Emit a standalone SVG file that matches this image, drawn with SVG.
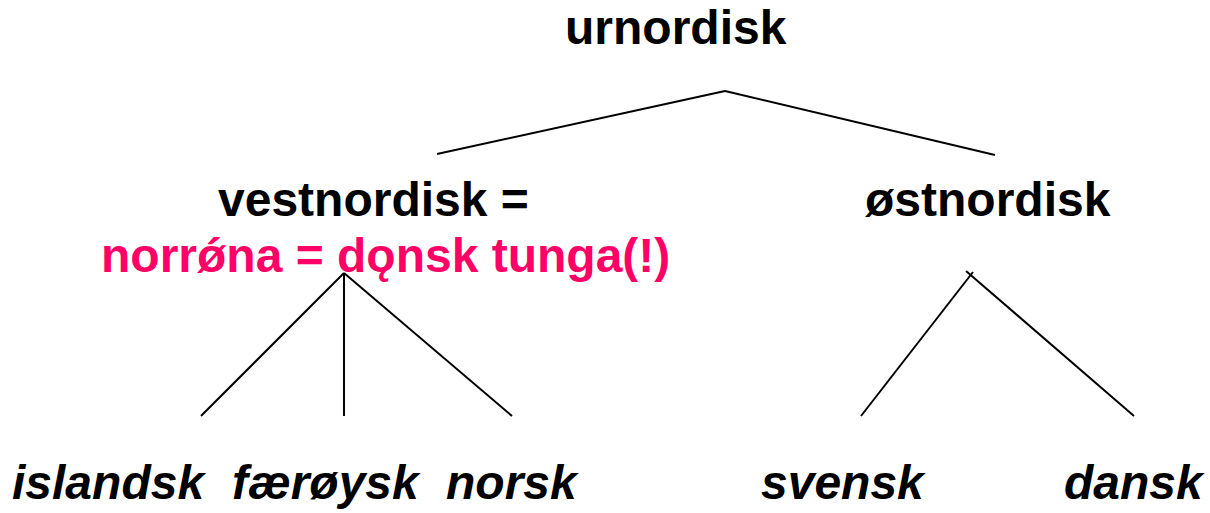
<svg xmlns="http://www.w3.org/2000/svg" width="1210" height="513" viewBox="0 0 1210 513">
<style>
text{font-family:"Liberation Sans",Arial,sans-serif;font-size:48px;font-weight:bold;fill:#000}
.pink{fill:#FF0066}
.it{font-style:italic}
line{stroke:#000;stroke-width:2;stroke-linecap:butt}
</style>
<rect width="1210" height="513" fill="#fff"/>
<g id="connectors">
<line x1="725" y1="91" x2="437" y2="154"/>
<line x1="725" y1="91" x2="995" y2="155"/>
<line x1="344" y1="273" x2="201" y2="416"/>
<line x1="344" y1="273" x2="344" y2="416"/>
<line x1="344" y1="273" x2="512" y2="416"/>
<line x1="973" y1="272" x2="861" y2="416"/>
<line x1="966" y1="271" x2="1134" y2="416"/>
</g>
<g id="urnordisk"><text x="565" y="44">urnordisk</text></g>
<g id="vestnordisk"><text x="218" y="216">vestnordisk =</text>
<text class="pink" x="101" y="272">norrǿna = dǫnsk tunga(!)</text></g>
<g id="ostnordisk"><text x="865" y="216">østnordisk</text></g>
<g id="islandsk"><text class="it" x="12" y="499">islandsk</text></g>
<g id="faeroysk"><text class="it" x="232" y="499">færøysk</text></g>
<g id="norsk"><text class="it" x="446" y="499">norsk</text></g>
<g id="svensk"><text class="it" x="761" y="499">svensk</text></g>
<g id="dansk"><text class="it" x="1064" y="499">dansk</text></g>
</svg>
